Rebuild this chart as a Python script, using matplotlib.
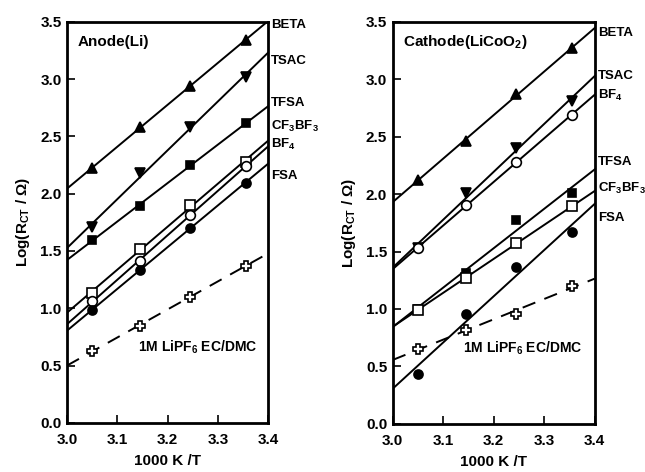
import numpy as np
import matplotlib
matplotlib.use("Agg")
import matplotlib.pyplot as plt

plt.rcParams['font.family'] = ['Liberation Sans', 'DejaVu Sans']
plt.rcParams['font.weight'] = 'bold'
plt.rcParams['mathtext.fontset'] = 'custom'
plt.rcParams['mathtext.rm'] = 'Liberation Sans:bold'
plt.rcParams['mathtext.it'] = 'Liberation Sans:bold'
plt.rcParams['mathtext.bf'] = 'Liberation Sans:bold'
plt.rcParams['mathtext.default'] = 'rm'

# ---- data ----
x_vals = [3.05, 3.145, 3.245, 3.355]
series = ['BETA', 'TSAC', 'TFSA', 'CF3BF3', 'BF4', 'FSA', 'LiPF6']

anode_BETA = [2.22, 2.585, 2.94, 3.34]
anode_TSAC = [1.71, 2.18, 2.585, 3.02]
anode_TFSA = [1.60, 1.89, 2.25, 2.615]
anode_CF3BF3 = [1.137, 1.515, 1.90, 2.28]
anode_BF4 = [1.06, 1.416, 1.815, 2.24]
anode_FSA = [0.986, 1.335, 1.70, 2.097]
anode_LiPF6 = [0.63, 0.846, 1.10, 1.373]

cathode_BETA = [2.124, 2.466, 2.872, 3.27]
cathode_TSAC = [1.53, 2.009, 2.405, 2.811]
cathode_TFSA = [1.00, 1.313, 1.777, 2.009]
cathode_CF3BF3 = [0.994, 1.27, 1.574, 1.892]
cathode_BF4 = [1.53, 1.907, 2.278, 2.69]
cathode_FSA = [0.435, 0.957, 1.365, 1.666]
cathode_LiPF6 = [0.652, 0.82, 0.957, 1.203]

anode_labels = ['BETA', 'TSAC', 'TFSA', 'CF$_3$BF$_3$', 'BF$_4$', 'FSA']
anode_label_y = [3.47, 3.16, 2.79, 2.585, 2.43, 2.15]
cathode_labels = ['BETA', 'TSAC', 'BF$_4$', 'TFSA', 'CF$_3$BF$_3$', 'FSA']
cathode_label_y = [3.40, 3.03, 2.86, 2.28, 2.05, 1.79]

xticks = [3.0, 3.1, 3.2, 3.3, 3.4]
yticks = [0.0, 0.5, 1.0, 1.5, 2.0, 2.5, 3.0, 3.5]

styles = {
    'BETA': dict(marker='^', mfc='black', ms=7),
    'TSAC': dict(marker='v', mfc='black', ms=7),
    'TFSA': dict(marker='s', mfc='black', ms=6),
    'CF3BF3': dict(marker='s', mfc='white', ms=6.5),
    'BF4': dict(marker='o', mfc='white', ms=7),
    'FSA': dict(marker='o', mfc='black', ms=6.5),
    'LiPF6': dict(marker='P', mfc='white', ms=6.5),
}

anode = dict(BETA=anode_BETA, TSAC=anode_TSAC, TFSA=anode_TFSA, CF3BF3=anode_CF3BF3,
             BF4=anode_BF4, FSA=anode_FSA, LiPF6=anode_LiPF6)
cathode = dict(BETA=cathode_BETA, TSAC=cathode_TSAC, TFSA=cathode_TFSA, CF3BF3=cathode_CF3BF3,
               BF4=cathode_BF4, FSA=cathode_FSA, LiPF6=cathode_LiPF6)

fig = plt.figure(figsize=(6.45, 4.72), dpi=100)
ax1 = fig.add_axes([0.104, 0.104, 0.312, 0.850])
ax2 = fig.add_axes([0.609, 0.102, 0.313, 0.852])

xline = np.array([3.0, 3.4])

def draw(ax, data, labels, label_y, title):
    for name in series:
        y = np.array(data[name])
        x = np.array(x_vals)
        k, b = np.polyfit(x, y, 1)
        ls = (0, (7, 5)) if name == 'LiPF6' else '-'
        ax.plot(xline, k * xline + b, color='black', lw=1.4, ls=ls, zorder=2)
        st = styles[name]
        ax.plot(x, y, ls='none', marker=st['marker'], mfc=st['mfc'], mec='black',
                mew=1.2, ms=st['ms'], zorder=3)
    ax.set_xlim(3.0, 3.4)
    ax.set_ylim(0.0, 3.5)
    ax.set_xticks(xticks)
    ax.set_yticks(yticks)
    ax.set_xticklabels(['%.1f' % v for v in xticks], fontsize=11, fontweight='bold')
    ax.set_yticklabels(['%.1f' % v for v in yticks], fontsize=11, fontweight='bold')
    ax.tick_params(direction='in', length=6, width=1.2, top=False, right=False)
    ax.tick_params(axis='x', pad=7)
    ax.tick_params(axis='y', pad=4)
    for s in ax.spines.values():
        s.set_linewidth(2)
    for lab, yy in zip(labels, label_y):
        ax.text(1.015, yy, lab, transform=ax.get_yaxis_transform(), fontsize=9.5,
                fontweight='bold', va='center', ha='left', clip_on=False)
    ax.text(3.02, 3.32, title, fontsize=11, va='center', ha='left')
    ax.text(3.14, 0.66, '1M LiPF$_6$ EC/DMC', fontsize=10, va='center', ha='left')
    ax.set_xlabel('1000 K /T', fontsize=11, fontweight='bold', labelpad=5)

draw(ax1, anode, anode_labels, anode_label_y, 'Anode(Li)')
draw(ax2, cathode, cathode_labels, cathode_label_y, 'Cathode(LiCoO$_2$)')
ax1.set_ylabel('Log(R$_{CT}$ / Ω)', fontsize=11, fontweight='bold', labelpad=6)
ax2.set_ylabel('Log(R$_{CT}$ / Ω)', fontsize=11, fontweight='bold', labelpad=6)

fig.savefig('out.png', dpi=100)
